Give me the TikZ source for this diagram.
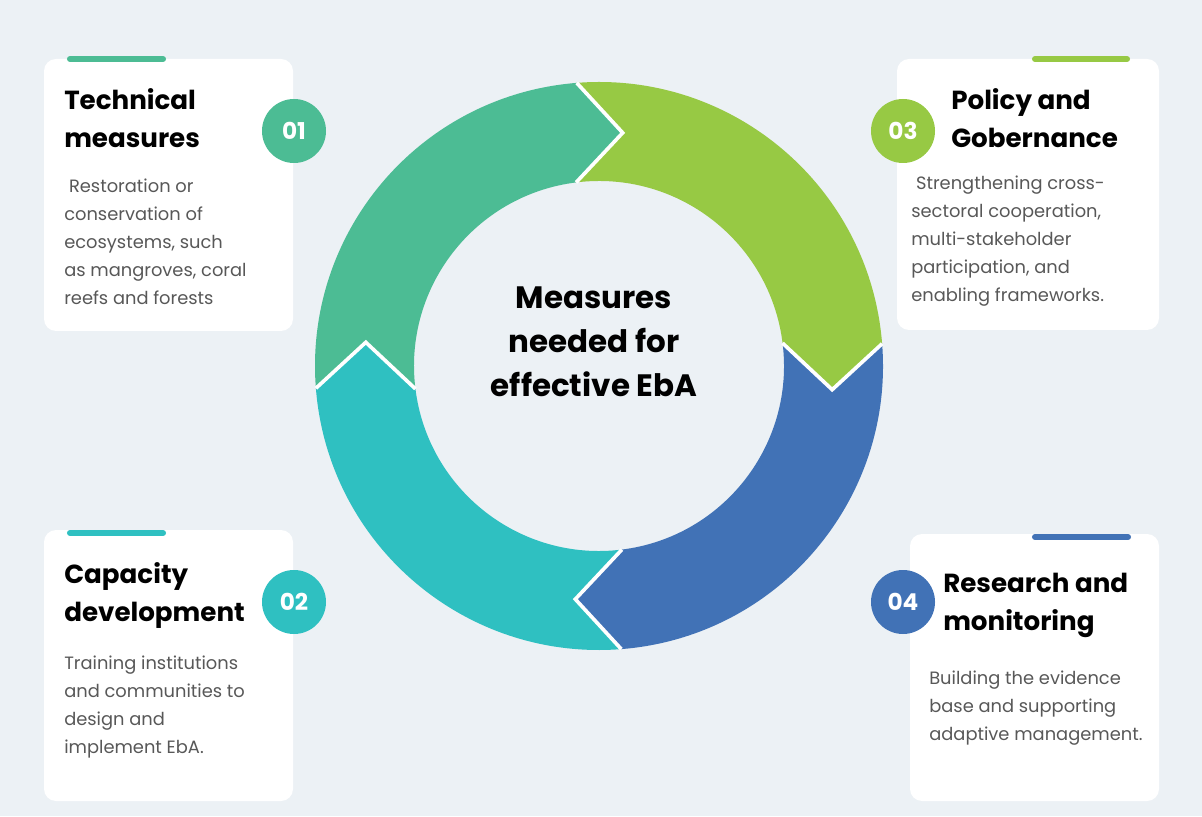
\documentclass[tikz,border=0pt]{standalone}
\usepackage{fontspec}
\setmainfont{Poppins}

\definecolor{bgcol}{RGB}{236,241,245}
\definecolor{seggreen}{RGB}{76,188,148}
\definecolor{seglime}{RGB}{151,201,68}
\definecolor{segblue}{RGB}{65,114,182}
\definecolor{segteal}{RGB}{47,192,193}
\definecolor{bodygray}{RGB}{88,88,88}

\tikzset{
	card/.style={fill=white, rounded corners=0.3cm},
	topbar/.style={line width=4.3pt, line cap=round},
	badge/.style={circle, minimum size=1.6cm, inner sep=0pt, text=white, font=\fontsize{16.5}{16.5}\selectfont\bfseries},
	title/.style={anchor=north west, inner sep=0pt, align=left, font=\fontsize{18.6}{27}\selectfont\bfseries},
	body/.style={anchor=north west, inner sep=0pt, align=left, text=bodygray, font=\fontsize{12.7}{19.9}\selectfont},
	centre/.style={align=center, inner sep=0pt, font=\fontsize{22}{31.3}\selectfont\bfseries},
	gapline/.style={white, line width=2.6pt, line join=miter},
}

\begin{document}
\begin{tikzpicture}

		% background
		\fill[bgcol] (0, 0) rectangle (30.05, 20.4);
		\useasboundingbox (0, 0) rectangle (30.05, 20.4);

		% ring of four arrows
		\coordinate (ring) at (14.975, 11.25);
		\begin{scope}[shift={(ring)}]
			\fill[seggreen] (184.5:7.1) arc[start angle=184.5, end angle=94.5, radius=7.1] -- (84.2:5.86) -- (97.1:4.625) arc[start angle=97.1, end angle=187.1, radius=4.625] -- (174.2:5.86) -- cycle;
			\fill[seglime] (94.5:7.1) arc[start angle=94.5, end angle=4.5, radius=7.1] -- (-5.8:5.86) -- (7.1:4.625) arc[start angle=7.1, end angle=97.1, radius=4.625] -- (84.2:5.86) -- cycle;
			\fill[segblue] (4.5:7.1) arc[start angle=4.5, end angle=-85.5, radius=7.1] -- (-95.8:5.86) -- (-82.9:4.625) arc[start angle=-82.9, end angle=7.1, radius=4.625] -- (-5.8:5.86) -- cycle;
			\fill[segteal] (-85.5:7.1) arc[start angle=-85.5, end angle=-175.5, radius=7.1] -- (-185.8:5.86) -- (-172.9:4.625) arc[start angle=-172.9, end angle=-82.9, radius=4.625] -- (-95.8:5.86) -- cycle;
			% white joints
			\draw[gapline] (94.5:7.1) -- (84.2:5.86) -- (97.1:4.625);
			\draw[gapline] (4.5:7.1) -- (-5.8:5.86) -- (7.1:4.625);
			\draw[gapline] (-85.5:7.1) -- (-95.8:5.86) -- (-82.9:4.625);
			\draw[gapline] (184.5:7.1) -- (174.2:5.86) -- (187.1:4.625);
		\end{scope}
		\node[centre] (goal) at (14.85, 11.85) {Measures\\needed for\\effective EbA};

		% card 01
		\fill[card] (1.1, 12.125) rectangle (7.325, 18.925);
		\draw[topbar, seggreen] (1.75, 18.925) -- (4.075, 18.925);
		\node[title] (t1) at (1.6, 18.2) {Technical\\measures};
		\node[body] (d1) at (1.6, 15.925) {~Restoration or\\conservation of\\ecosystems, such\\as mangroves, coral\\reefs and forests};
		\node[badge, fill=seggreen] (b1) at (7.35, 17.125) {01};

		% card 02
		\fill[card] (1.1, 0.375) rectangle (7.325, 7.15);
		\draw[topbar, segteal] (1.75, 7.075) -- (4.075, 7.075);
		\node[title] (t2) at (1.6, 6.35) {Capacity\\development};
		\node[body] (d2) at (1.6, 4.0) {Training institutions\\and communities to\\design and\\implement EbA.};
		\node[badge, fill=segteal] (b2) at (7.35, 5.35) {02};

		% card 03
		\fill[card] (22.425, 12.15) rectangle (28.975, 18.925);
		\draw[topbar, seglime] (25.875, 18.925) -- (28.175, 18.925);
		\node[title] (t3) at (23.775, 18.2) {Policy and\\Gobernance};
		\node[body] (d3) at (22.775, 16.0) {~Strengthening cross-\\sectoral cooperation,\\multi-stakeholder\\participation, and\\enabling frameworks.};
		\node[badge, fill=seglime] (b3) at (22.575, 17.125) {03};

		% card 04
		\fill[card] (22.75, 0.375) rectangle (28.975, 7.05);
		\draw[topbar, segblue] (25.875, 6.975) -- (28.2, 6.975);
		\node[title] (t4) at (23.575, 6.075) {Research and\\monitoring};
		\node[body] (d4) at (23.225, 3.625) {Building the evidence\\base and supporting\\adaptive management.};
		\node[badge, fill=segblue] (b4) at (22.575, 5.35) {04};

	\end{tikzpicture}
\end{document}
